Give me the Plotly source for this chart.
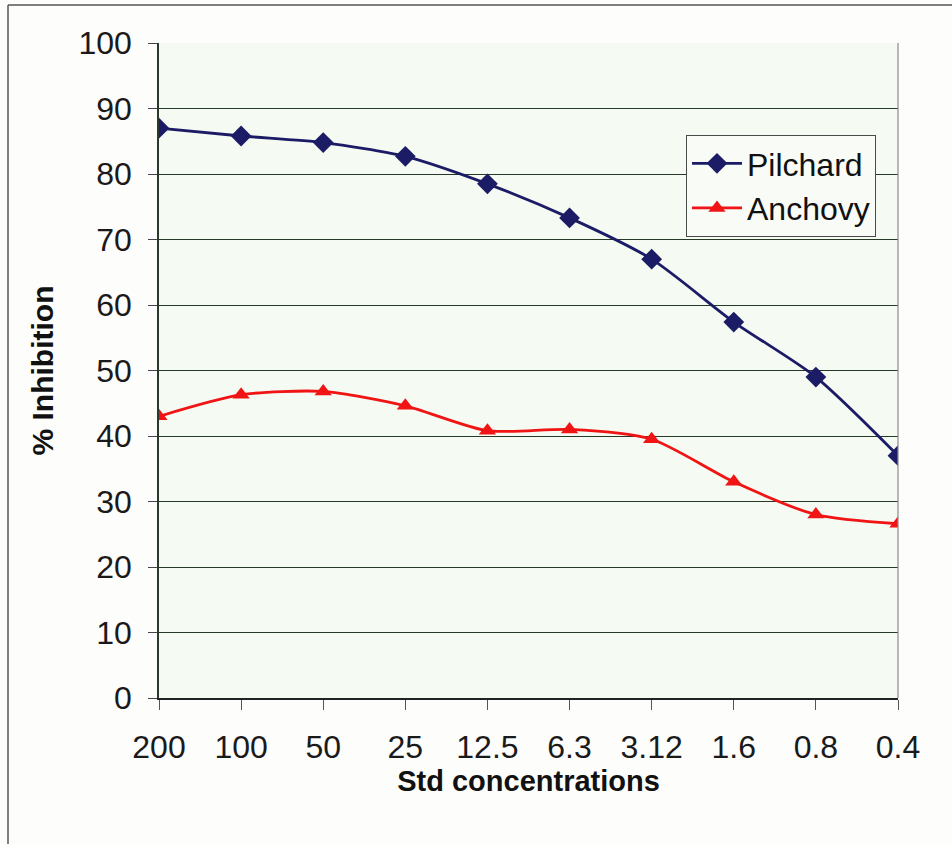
import plotly.graph_objects as go

# Standard concentrations (category axis, high to low)
concentrations = ["200", "100", "50", "25", "12.5", "6.3", "3.12", "1.6", "0.8", "0.4"]
pilchard = [87.0, 85.8, 84.8, 82.7, 78.5, 73.3, 67.0, 57.4, 49.0, 37.0]
anchovy = [43.0, 46.3, 46.8, 44.6, 40.8, 41.0, 39.5, 33.0, 28.0, 26.6]
y_ticks = [0, 10, 20, 30, 40, 50, 60, 70, 80, 90, 100]

W, H = 952, 844
L, R, T, B = 159, 54, 43, 146
pw, ph = W - L - R, H - T - B

def px_x(v):
    return (v - L) / pw

def px_y(v):
    return (H - B - v) / ph

FONT = "Liberation Sans, Arial, sans-serif"
GRID = "#263826"

fig = go.Figure()
fig.add_trace(go.Scatter(
    x=concentrations, y=pilchard, name="Pilchard",
    mode="lines+markers",
    line=dict(color="#1c1c66", width=2.8, shape="spline", smoothing=0.7),
    marker=dict(symbol="diamond", size=16, color="#1c1c66"),
))
fig.add_trace(go.Scatter(
    x=concentrations, y=anchovy, name="Anchovy",
    mode="lines+markers",
    line=dict(color="#f01414", width=2.8, shape="spline", smoothing=0.7),
    marker=dict(symbol="triangle-up", size=15, color="#f01414"),
))

fig.update_layout(
    width=W, height=H,
    margin=dict(l=L, r=R, t=T, b=B),
    paper_bgcolor="#fdfdfb",
    plot_bgcolor="#f5faf2",
    font=dict(family=FONT, color="#1a1a1a"),
    showlegend=True,
    legend=dict(
        x=px_x(686), y=px_y(135), xanchor="left", yanchor="top",
        bgcolor="#f8fbf6", bordercolor="#4a4a4a", borderwidth=1,
        font=dict(size=32, family=FONT, color="#111111"),
        itemwidth=50, tracegroupgap=0,
    ),
    xaxis=dict(
        type="category",
        range=[0, len(concentrations) - 1],
        showgrid=False,
        showline=True, linecolor="#222222", linewidth=1.5,
        ticks="outside", ticklen=10, tickcolor="#555555",
        tickfont=dict(size=32, family=FONT, color="#1a1a1a"),
        ticklabelstandoff=10,
        title=dict(text="<b>Std concentrations</b>",
                   font=dict(size=29, family=FONT, color="#111111"),
                   standoff=0),
    ),
    yaxis=dict(
        range=[0, 100],
        tickvals=y_ticks,
        showgrid=True, gridcolor=GRID, gridwidth=1.4,
        zeroline=False,
        showline=True, linecolor="#2a3a2a", linewidth=1.5,
        ticks="outside", ticklen=9, tickcolor="#444444",
        tickfont=dict(size=32, family=FONT, color="#1a1a1a"),
        ticklabelstandoff=10,
        title=dict(text="<b>% Inhibition</b>",
                   font=dict(size=30, family=FONT, color="#111111"),
                   standoff=16),
    ),
    shapes=[
        # right edge of plotting area
        dict(type="line", xref="paper", yref="paper", x0=1, x1=1, y0=0, y1=1,
             line=dict(color="#8a8a8a", width=1.2)),
        # outer chart frame (top and left)
        dict(type="line", xref="paper", yref="paper",
             x0=px_x(8), x1=px_x(952), y0=px_y(5), y1=px_y(5),
             line=dict(color="#555555", width=1.5)),
        dict(type="line", xref="paper", yref="paper",
             x0=px_x(8), x1=px_x(8), y0=px_y(5), y1=px_y(844),
             line=dict(color="#555555", width=1.5)),
    ],
)

fig.write_html("out.html")
